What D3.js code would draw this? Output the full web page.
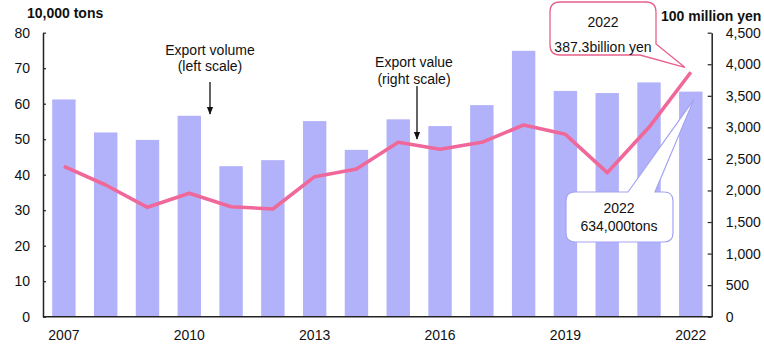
<!DOCTYPE html>
<html>
<head>
<meta charset="utf-8">
<script src="https://cdn.jsdelivr.net/npm/d3@7"></script>
<style>
  html,body{margin:0;padding:0;background:#fff;}
  svg{display:block;font-family:"Liberation Sans",Arial,sans-serif;}
</style>
</head>
<body>
<div id="chart"></div>
<script>
// export volume (bars, 10,000 tons) and export value (line, 100 million yen)
const years = ['2007','2008','2009','2010','2011','2012','2013','2014','2015','2016','2017','2018','2019','2020','2021','2022'];
const volume = [61.2, 51.9, 49.8, 56.6, 42.4, 44.1, 55.1, 47.0, 55.6, 53.7, 59.6, 74.9, 63.6, 63.0, 66.0, 63.4];
const value = [2383, 2087, 1733, 1955, 1743, 1707, 2219, 2340, 2763, 2652, 2763, 3038, 2890, 2282, 3001, 3873];
const xLabels = ['2007','2010','2013','2016','2019','2022'];
const leftTicks = [0,10,20,30,40,50,60,70,80];
const rightTicks = [0,500,1000,1500,2000,2500,3000,3500,4000,4500];

(function() {
  const W = 764, H = 354;
  const m = {top:32.7, right:52.3, bottom:37.3, left:43};
  const w = W-m.left-m.right, h = H-m.top-m.bottom;
  const BAR = '#b2b2fa', LINE = '#f0689a', INK = '#222';

  const svg = d3.select('#chart').append('svg').attr('width',W).attr('height',H);
  const g = svg.append('g').attr('transform',`translate(${m.left},${m.top})`);

  const xSc = d3.scaleBand().domain(years).range([0,w]).paddingInner(0.44).paddingOuter(0.22);
  const yL = d3.scaleLinear().domain([0,80]).range([h,0]);
  const yR = d3.scaleLinear().domain([0,4500]).range([h,0]);
  const cx = d => xSc(d)+xSc.bandwidth()/2;

  // bars
  g.selectAll('.bar').data(years).join('rect').attr('class','bar')
    .attr('x',d=>xSc(d)).attr('width',xSc.bandwidth())
    .attr('y',(d,i)=>yL(volume[i])).attr('height',(d,i)=>h-yL(volume[i]))
    .attr('fill',BAR);

  // line
  g.append('path').datum(years)
    .attr('d',d3.line().x(d=>cx(d)).y((d,i)=>yR(value[i])))
    .attr('fill','none').attr('stroke',LINE).attr('stroke-width',3.6).attr('stroke-linejoin','round');

  // axes
  const styleAxis = sel => {
    sel.select('.domain').attr('stroke',INK).attr('stroke-width',1.5);
    sel.selectAll('.tick line').attr('stroke',INK).attr('stroke-width',1.2);
    sel.selectAll('text').attr('fill','#111').style('font-size','14px')
      .style('font-family','"Liberation Sans",Arial,sans-serif');
  };
  g.append('g').call(d3.axisLeft(yL).tickValues(leftTicks).tickSizeInner(-3).tickSizeOuter(0).tickPadding(13))
    .call(styleAxis);
  g.append('g').attr('transform',`translate(${w},0)`)
    .call(d3.axisRight(yR).tickValues(rightTicks).tickSizeInner(-4).tickSizeOuter(0).tickPadding(14)
      .tickFormat(d3.format(',')))
    .call(styleAxis);
  g.append('g').attr('transform',`translate(0,${h})`)
    .call(d3.axisBottom(xSc).tickValues(xLabels).tickSize(0).tickPadding(13))
    .call(styleAxis)
    .call(a=>a.select('.domain').attr('d',`M0,0H${w}`));

  // unit titles
  const txt = (x,y,s,anchor,weight) => svg.append('text').attr('x',x).attr('y',y)
    .attr('text-anchor',anchor||'middle').style('font-size','14px')
    .style('font-weight',weight||'normal').attr('fill','#111').text(s);
  txt(27,17.5,'10,000 tons','start','bold');
  txt(661,20.5,'100 million yen','start','bold');

  // series notes with arrows
  svg.append('defs').append('marker').attr('id','ah').attr('viewBox','0 0 10 10')
    .attr('refX',9).attr('refY',5).attr('markerWidth',6).attr('markerHeight',6)
    .attr('orient','auto').append('path').attr('d','M0,1L10,5L0,9Z').attr('fill','#111');
  txt(210,55,'Export volume'); txt(210,71,'(left scale)');
  svg.append('line').attr('x1',210).attr('y1',82).attr('x2',210).attr('y2',114)
    .attr('stroke','#111').attr('stroke-width',1.3).attr('marker-end','url(#ah)');
  txt(414,67,'Export value'); txt(414,84,'(right scale)');
  svg.append('line').attr('x1',417).attr('y1',86).attr('x2',417).attr('y2',139)
    .attr('stroke','#111').attr('stroke-width',1.3).attr('marker-end','url(#ah)');

  // callouts
  const last = years.length-1;
  const tipV = [m.left+cx(years[last])-6, m.top+yR(value[last])-5];
  svg.append('path')
    .attr('d',`M560,2H646Q656,2 656,12V44L${tipV[0]},${tipV[1]}L640,55H560Q550,55 550,45V12Q550,2 560,2Z`)
    .attr('fill','#fff').attr('stroke','#e8608c').attr('stroke-width',1.3);
  txt(603,27,'2022'); txt(603,52,'387.3billion yen');

  const tipQ = [m.left+cx(years[last])+3, m.top+yL(volume[last])+8];
  svg.append('path')
    .attr('d',`M575,192H628L${tipQ[0]},${tipQ[1]}L655,192H664Q673,192 673,201V233Q673,242 664,242H575Q566,242 566,233V201Q566,192 575,192Z`)
    .attr('fill','#fff').attr('stroke','#a3a3f3').attr('stroke-width',1.2);
  txt(619,213,'2022'); txt(619,231,'634,000tons');
})();
</script>
</body>
</html>
